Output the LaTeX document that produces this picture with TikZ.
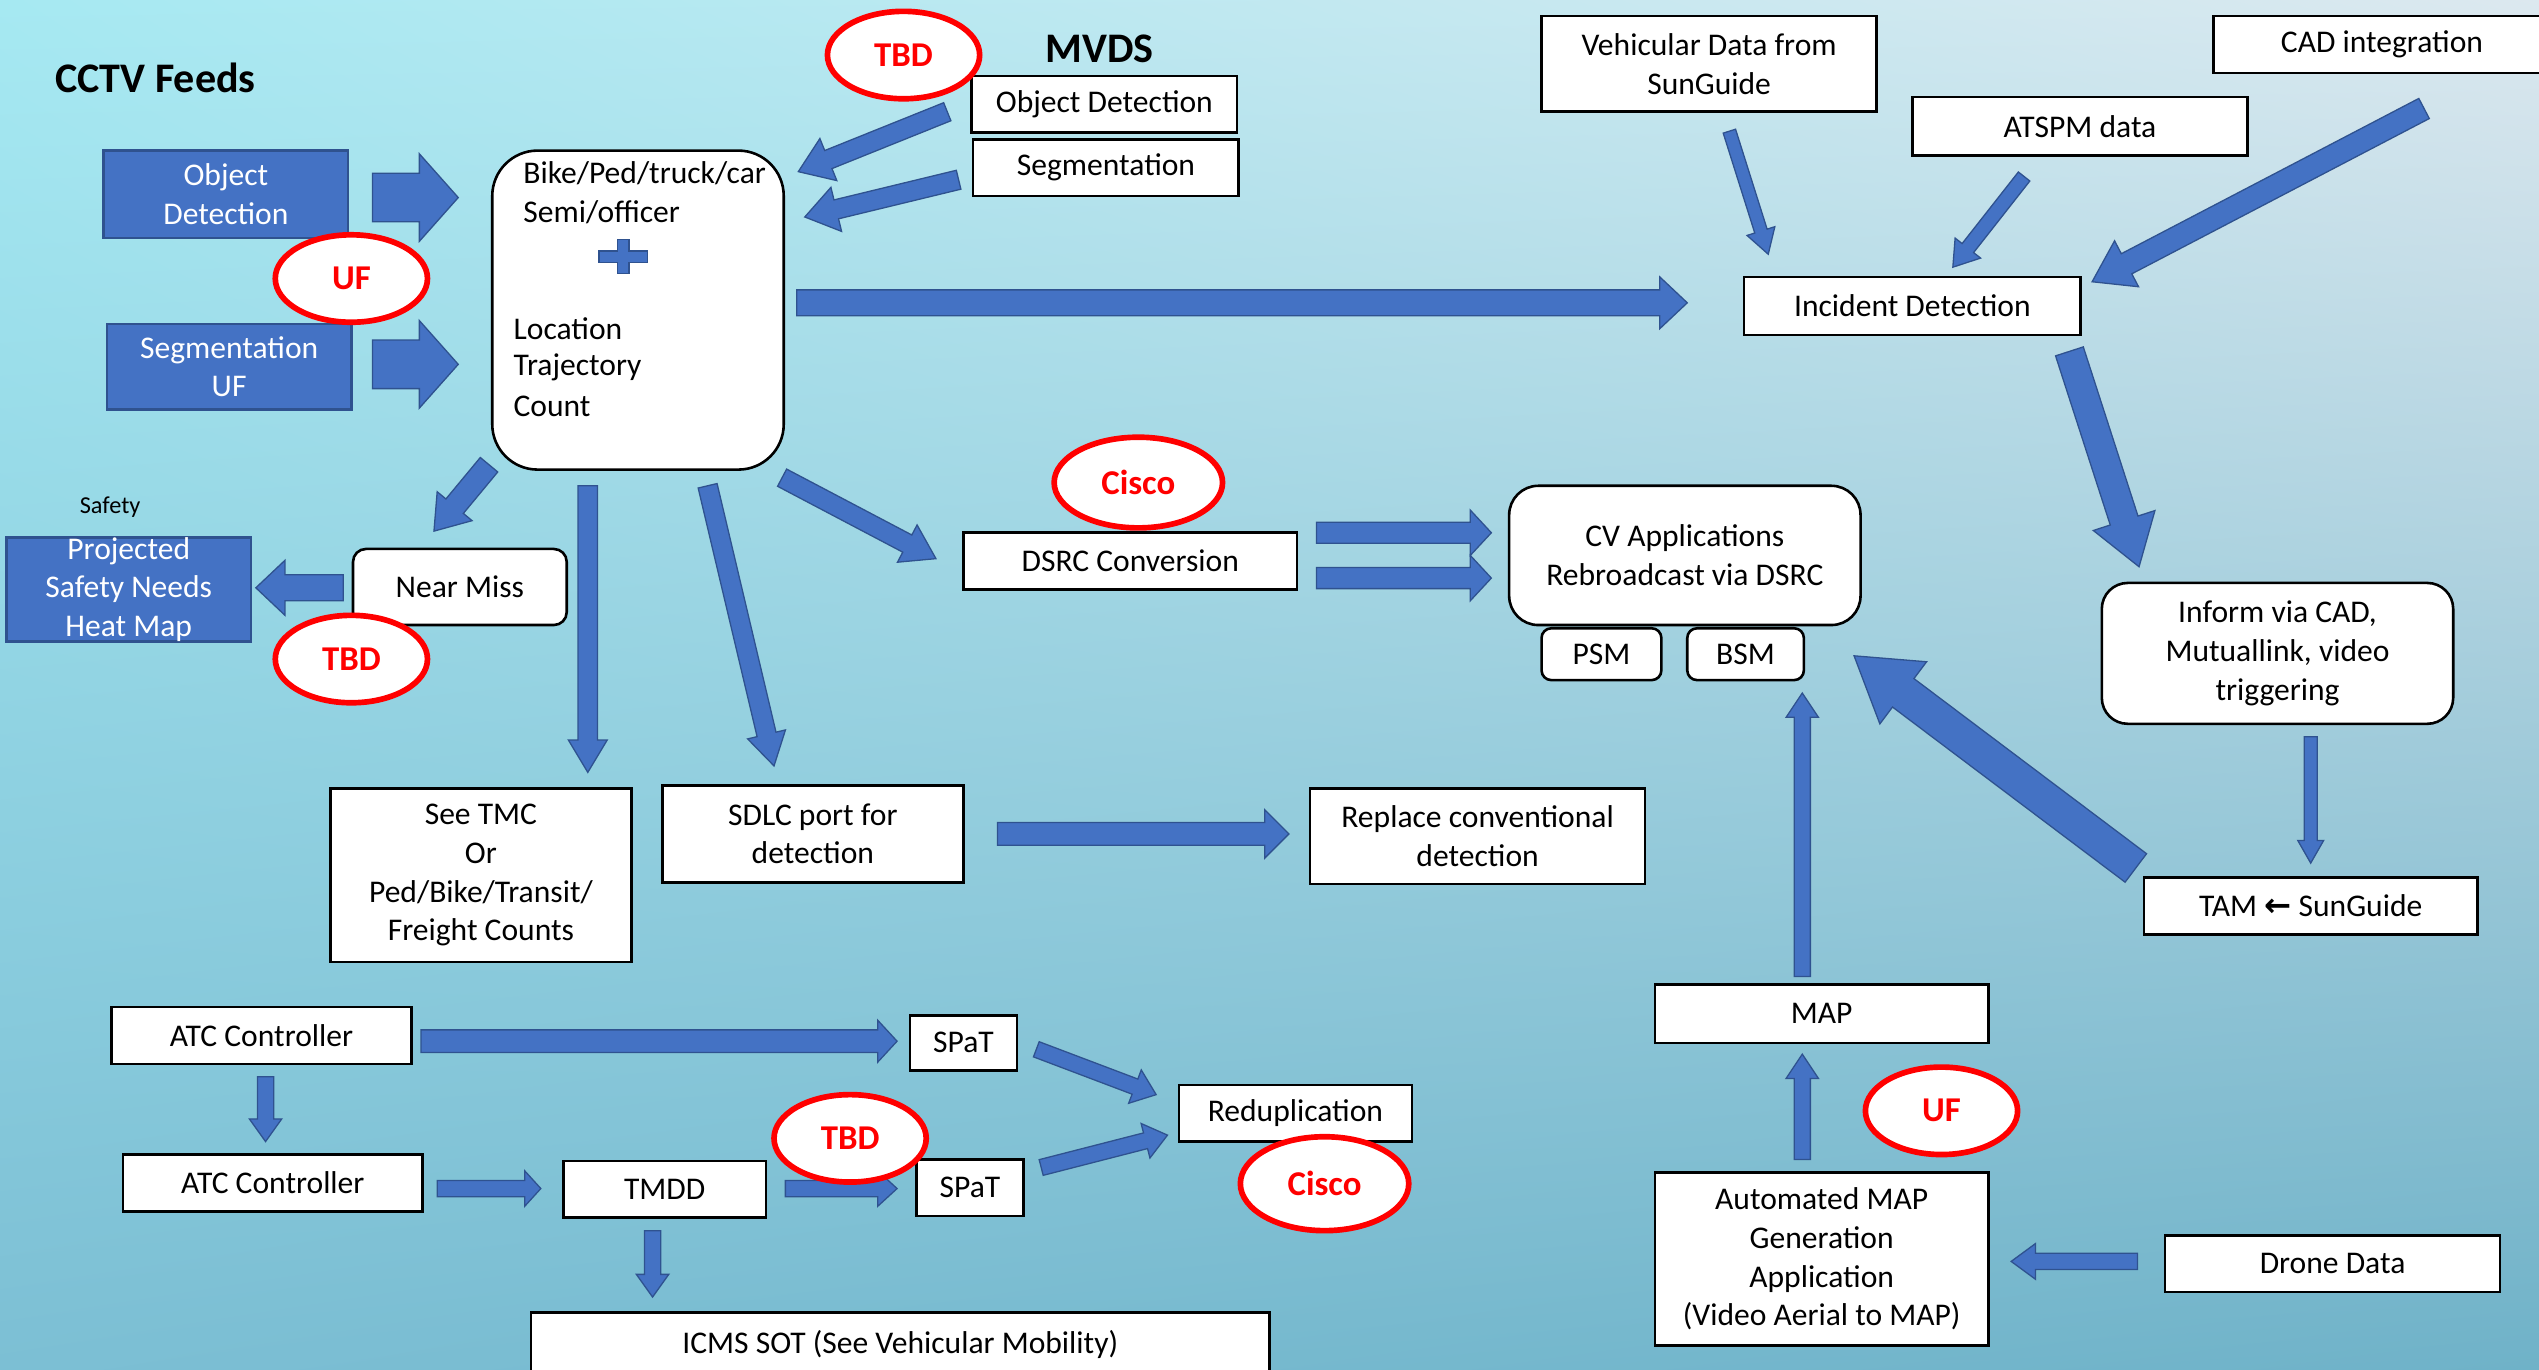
\documentclass[tikz,border=0pt]{standalone}
\usepackage{fontspec}
\setmainfont{Carlito}
\newfontfamily\dejavu{DejaVu Sans}
\usetikzlibrary{calc,shapes.geometric,shadings}
\definecolor{ablue}{HTML}{4472C4}
\definecolor{adark}{HTML}{2F528F}
\definecolor{ored}{HTML}{FF0000}
\definecolor{bgUL}{HTML}{A6E9F2}
\definecolor{bgUR}{HTML}{DCE8EF}
\definecolor{bgLL}{HTML}{7CBFD4}
\definecolor{bgLR}{HTML}{6FB2C8}
\tikzset{
  every node/.style={font=\fontsize{19.5}{23.8}\selectfont},
  wbox/.style={draw=black, line width=1.6pt, fill=white, inner sep=0pt, align=center, text=black},
  rbox/.style={wbox, rounded corners=#1},
  bbox/.style={draw=adark, line width=1.6pt, fill=ablue, inner sep=0pt, align=center, text=white},
  tag/.style={ellipse, draw=ored, line width=3.5pt, fill=white, text=ored,
    font=\fontsize{21.5}{25}\selectfont\bfseries, minimum width=94, minimum height=54, inner sep=0pt},
  barr/.style={fill=ablue, draw=adark, line width=0.8pt},
  ttl/.style={font=\fontsize{26}{30}\selectfont\bfseries, inner sep=0pt},
  plain/.style={inner sep=0pt, anchor=west},
}
% block arrow: start, end, shaft half width, head half width, head length
\newcommand\blk[5]{%
  \coordinate (bkH) at ($(#2)!#5pt!(#1)$);
  \filldraw[barr] ($(#1)!#3pt!90:(#2)$) -- ($(bkH)!#3pt!90:(#2)$) -- ($(bkH)!#4pt!90:(#2)$) -- (#2)
    -- ($(bkH)!#4pt!-90:(#2)$) -- ($(bkH)!#3pt!-90:(#2)$) -- ($(#1)!#3pt!-90:(#2)$) -- cycle;
}
\begin{document}
\begin{tikzpicture}[x=1pt,y=-1pt]
\useasboundingbox (0,0) rectangle (1568,846);
\shade[upper left=bgUL, upper right=bgUR, lower left=bgLL, lower right=bgLR] (0,0) rectangle (1568,846);
\clip (0,0) rectangle (1568,846);

% ---------- arrow coordinates ----------
\coordinate (c1s) at (230,122);   \coordinate (c1e) at (283,122);
\coordinate (c2s) at (230,225);   \coordinate (c2e) at (283,225);
\coordinate (m1s) at (585,69);    \coordinate (m1e) at (493,106);
\coordinate (m2s) at (592,111);   \coordinate (m2e) at (497,134);
\coordinate (ls) at (492,187);    \coordinate (le) at (1042,187);
\coordinate (vs) at (1068,81);    \coordinate (ve) at (1092,157);
\coordinate (as) at (1250,109);   \coordinate (ae) at (1206,165);
\coordinate (cs) at (1497,67);    \coordinate (ce) at (1292,174);
\coordinate (is) at (1278,217);   \coordinate (ie) at (1321,350);
\coordinate (fs) at (1427,455);   \coordinate (fe) at (1427,533);
\coordinate (ts) at (1319,536);   \coordinate (te) at (1145,405);
\coordinate (ps) at (1113,603);   \coordinate (pe) at (1113,428);
\coordinate (qs) at (1113,716);   \coordinate (qe) at (1113,651);
\coordinate (ds) at (1320,779);   \coordinate (de) at (1242,779);
\coordinate (r1s) at (813,329);   \coordinate (r1e) at (921,329);
\coordinate (r2s) at (813,357);   \coordinate (r2e) at (921,357);
\coordinate (ks) at (483,295);    \coordinate (ke) at (578,345);
\coordinate (ns) at (302,287);    \coordinate (ne) at (268,328);
\coordinate (hs) at (212,363);    \coordinate (he) at (158,363);
\coordinate (os) at (363,300);    \coordinate (oe) at (363,477);
\coordinate (gs) at (437,300);    \coordinate (ge) at (478,473);
\coordinate (ss) at (616,515);    \coordinate (se) at (796,515);
\coordinate (x1s) at (260,643);   \coordinate (x1e) at (554,643);
\coordinate (x2s) at (164,665);   \coordinate (x2e) at (164,705);
\coordinate (x3s) at (270,734);   \coordinate (x3e) at (334,734);
\coordinate (x4s) at (485,734);   \coordinate (x4e) at (554,734);
\coordinate (x5s) at (640,648);   \coordinate (x5e) at (714,676);
\coordinate (x6s) at (643,721);   \coordinate (x6e) at (721,701);
\coordinate (x7s) at (403,760);   \coordinate (x7e) at (403,801);

% ---------- block arrows ----------
\blk{c1s}{c1e}{15}{27}{24}
\blk{c2s}{c2e}{15}{27}{24}
\blk{m1s}{m1e}{6}{14}{20}
\blk{m2s}{m2e}{6}{14}{20}
\blk{ls}{le}{8}{16}{17}
\blk{vs}{ve}{4}{9}{15}
\blk{as}{ae}{4.5}{10}{15}
\blk{cs}{ce}{7}{16}{24}
\blk{is}{ie}{9}{20}{30}
\blk{fs}{fe}{4}{8}{14}
\blk{ts}{te}{11}{24}{38}
\blk{ps}{pe}{5}{10}{15}
\blk{qs}{qe}{5}{10}{15}
\blk{ds}{de}{5}{11}{15}
\blk{r1s}{r1e}{6.5}{14}{13}
\blk{r2s}{r2e}{6.5}{14}{13}
\blk{ks}{ke}{6}{13}{20}
\blk{ns}{ne}{7}{14}{20}
\blk{hs}{he}{8}{17}{18}
\blk{os}{oe}{6}{12}{20}
\blk{gs}{ge}{6}{12}{20}
\blk{ss}{se}{7}{15}{15}
\blk{x1s}{x1e}{7}{13}{12}
\blk{x2s}{x2e}{5}{10}{14}
\blk{x3s}{x3e}{5}{11}{10}
\blk{x4s}{x4e}{5}{11}{12}
\blk{x5s}{x5e}{5}{11}{14}
\blk{x6s}{x6e}{5}{11}{14}
\blk{x7s}{x7e}{5}{10}{14}

% ---------- CCTV side ----------
\node[ttl] (cctv) at (96,48) {CCTV Feeds};
\node[bbox, minimum width=151, minimum height=54] (bod) at (139.5,120) {Object\\Detection};
\node[bbox, minimum width=151, minimum height=53] (bseg) at (141.5,226.5) {Segmentation\\UF};

\node[rbox=28pt, minimum width=180, minimum height=197] (main) at (394,191.5) {};
\node[plain] (t1) at (323,107) {Bike/Ped/truck/car};
\node[plain] (t2) at (323,131) {Semi/officer};
\node[plain] (t3) at (317,203) {Location};
\node[plain] (t4) at (317,227) {Trajectory};
\node[plain] (t5) at (317,251) {Count};
\filldraw[barr] (381.5,148) -- (388.5,148) -- (388.5,155) -- (400,155) -- (400,162) -- (388.5,162)
  -- (388.5,169) -- (381.5,169) -- (381.5,162) -- (370,162) -- (370,155) -- (381.5,155) -- cycle;

% ---------- MVDS ----------
\node[ttl] (mvds) at (679,30) {MVDS};
\node[wbox, minimum width=164, minimum height=35] (mod) at (682,64.5) {Object Detection};
\node[wbox, minimum width=164, minimum height=35] (mseg) at (683,103.5) {Segmentation};

% ---------- top right ----------
\node[wbox, minimum width=207, minimum height=59] (veh) at (1055.5,39.5) {Vehicular Data from\\SunGuide};
\node[wbox, minimum width=208, minimum height=35] (cad) at (1471,27.5) {CAD integration};
\node[wbox, minimum width=207, minimum height=36] (atspm) at (1284.5,78) {ATSPM data};
\node[wbox, minimum width=208, minimum height=36] (inc) at (1181,189) {Incident Detection};
\node[rbox=16pt, minimum width=217, minimum height=87] (inform) at (1406.5,403.5) {Inform via CAD,\\Mutuallink, video\\triggering};
\node[wbox, minimum width=206, minimum height=35] (tam) at (1427,559.5) {TAM {\dejavu\bfseries\fontsize{20}{20}\selectfont ←} SunGuide};
\node[rbox=18pt, minimum width=217, minimum height=86] (cv) at (1040.5,343) {CV Applications\\Rebroadcast via DSRC};
\node[rbox=6pt, minimum width=74, minimum height=32] (psm) at (989,404) {PSM};
\node[rbox=6pt, minimum width=72, minimum height=32] (bsm) at (1078,404) {BSM};
\node[wbox, minimum width=206, minimum height=36] (map) at (1125,626) {MAP};
\node[wbox, minimum width=206, minimum height=107] (amap) at (1125,777.5) {Automated MAP\\Generation\\Application\\(Video Aerial to MAP)};
\node[wbox, minimum width=207, minimum height=35] (drone) at (1440.5,780.5) {Drone Data};

% ---------- middle ----------
\node[wbox, minimum width=206, minimum height=35] (dsrc) at (698,346.5) {DSRC Conversion};
\node[rbox=8pt, minimum width=132, minimum height=47] (near) at (284,362.5) {Near Miss};
\node[inner sep=0pt, font=\fontsize{15}{18}\selectfont] (safety) at (68,313) {Safety};
\node[bbox, minimum width=151, minimum height=64] (heat) at (79.5,364) {Projected\\Safety Needs\\Heat Map};
\node[wbox, minimum width=186, minimum height=107] (tmc) at (297,540.5) {See TMC\\Or\\Ped/Bike/Transit/\\Freight Counts};
\node[wbox, minimum width=186, minimum height=60] (sdlc) at (502,515) {SDLC port for\\detection};
\node[wbox, minimum width=207, minimum height=59] (repl) at (912.5,516.5) {Replace conventional\\detection};

% ---------- bottom ----------
\node[wbox, minimum width=185, minimum height=35] (atc1) at (161.5,639.5) {ATC Controller};
\node[wbox, minimum width=66, minimum height=34] (spat1) at (595,644) {SPaT};
\node[wbox, minimum width=185, minimum height=35] (atc2) at (168.5,730.5) {ATC Controller};
\node[wbox, minimum width=125, minimum height=35] (tmdd) at (410.5,734.5) {TMDD};
\node[wbox, minimum width=66, minimum height=35] (spat2) at (599,733.5) {SPaT};
\node[wbox, minimum width=144, minimum height=35] (redup) at (800,687.5) {Reduplication};
\node[wbox, minimum width=456, minimum height=40] (icms) at (556,830.5) {ICMS SOT (See Vehicular Mobility)};

% ---------- red tags ----------
\node[tag] (uf1) at (217,172) {UF};
\node[tag] (tbd1) at (558,34) {TBD};
\node[tag] (tbd2) at (217,407) {TBD};
\node[tag, minimum width=104, minimum height=56] (cisco1) at (703,298) {Cisco};
\node[tag] (uf2) at (1199,686) {UF};
\node[tag] (tbd3) at (525,703) {TBD};
\node[tag, minimum width=104, minimum height=58] (cisco2) at (818,731) {Cisco};
\end{tikzpicture}
\end{document}
